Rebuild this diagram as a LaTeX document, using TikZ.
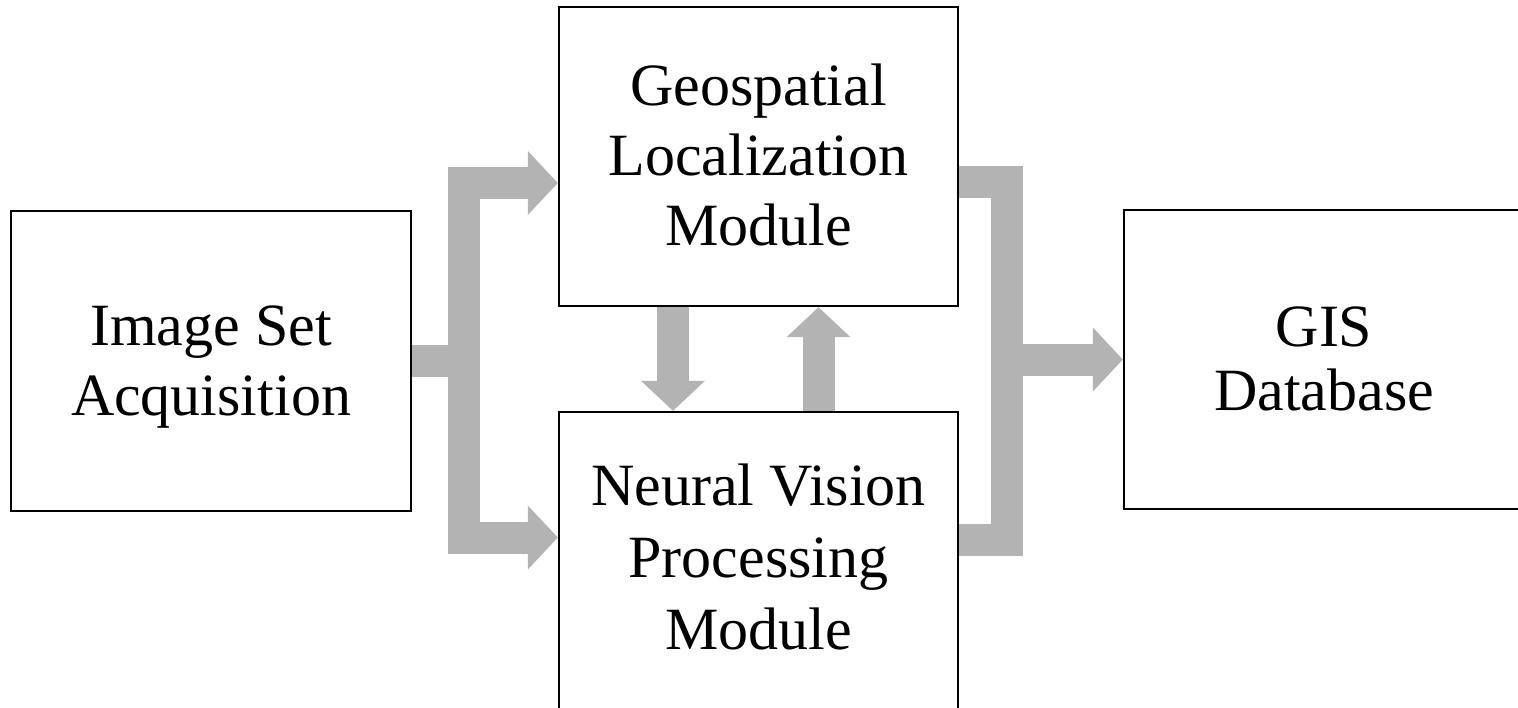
\documentclass[tikz,border=0pt]{standalone}
\usepackage{fontspec}
\setmainfont{Liberation Serif}
\usetikzlibrary{arrows.meta,calc}
\definecolor{arrowgray}{RGB}{179,179,179}
\tikzset{
  box/.style={draw=black, line width=1.2pt, inner sep=0pt},
  boxtext/.style={align=center, font=\fontsize{30pt}{35pt}\selectfont, inner sep=0pt},
  fatline/.style={draw=arrowgray, line width=16pt, line join=miter},
  fatarrow/.style={fatline, -{Triangle[length=15pt,width=32pt,line width=0pt]}},
}
\begin{document}
\begin{tikzpicture}[x=0.5pt,y=-0.5pt]
\useasboundingbox (0,0) rectangle (1518,707);
\node[box, minimum width=200pt, minimum height=150pt,
  label={[boxtext, yshift=-3pt]center:{Image Set\\Acquisition}}] (acq) at (211,361) {};
\node[box, minimum width=199.5pt, minimum height=149.5pt,
  label={[boxtext, yshift=1pt]center:{Geospatial\\Localization\\Module}}] (geo) at (758.5,156.5) {};
\node[box, minimum width=199.5pt, minimum height=150pt,
  label={[boxtext, yshift=2.5pt, font=\fontsize{30pt}{36pt}\selectfont]center:{Neural Vision\\Processing\\Module}}] (nvp) at (758.5,562) {};
\node[box, minimum width=200pt, minimum height=149.5pt,
  label={[boxtext, yshift=0.5pt, font=\fontsize{30pt}{32pt}\selectfont]center:{GIS\\Database}}] (gis) at (1324,359.5) {};
% left fork
\coordinate (lsplit) at (464,361);
\draw[fatline] (acq.east) -- (lsplit);
\draw[fatarrow] (lsplit) |- ($(geo.west)+(0,26.5)$);
\draw[fatarrow] (lsplit) |- ($(nvp.west)+(0,-24.5)$);
% right fork
\coordinate (rsplit) at (1007,359.5);
\draw[fatline] ($(geo.east)+(0,25.5)$) -| (rsplit) |- ($(nvp.east)+(0,-22.5)$);
\draw[fatarrow] (rsplit) -- (gis.west);
% middle arrows
\draw[fatarrow] ($(geo.south)+(-85.5,0)$) -- ($(nvp.north)+(-85.5,0)$);
\draw[fatarrow] ($(nvp.north)+(60,0)$) -- ($(geo.south)+(60,0)$);
\end{tikzpicture}
\end{document}
